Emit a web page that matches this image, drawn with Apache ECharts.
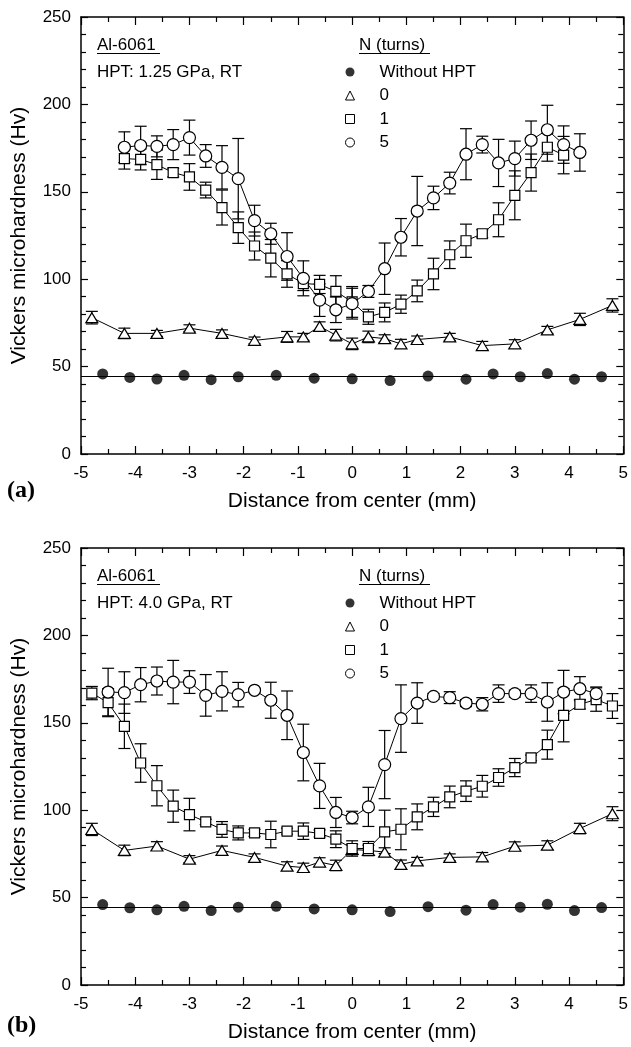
<!DOCTYPE html>
<html>
<head>
<meta charset="utf-8">
<script src="https://cdn.jsdelivr.net/npm/echarts@6/dist/echarts.min.js"></script>
<style>
html,body{margin:0;padding:0;background:#fff;}
#chart{width:631px;height:1047px;}
</style>
</head>
<body>
<div id="chart"></div>
<script>
// ---------------- DATA ----------------
const xTicks = [-5,-4,-3,-2,-1,0,1,2,3,4,5];
const yTicks = [0,50,100,150,200,250];
const legendNames = ['Without HPT','0','1','5'];
const baselineHv = 44.3;

// Reference (without HPT) – filled circles
const xRef = [-4.6,-4.1,-3.6,-3.1,-2.6,-2.1,-1.4,-0.7,0,0.7,1.4,2.1,2.6,3.1,3.6,4.1,4.6];
const yRefA = [45.8,43.8,42.9,45,42.5,44.2,45,43.4,43,42,44.6,42.8,45.8,44.2,46,42.8,44.2];
const yRefB = [46,44.2,43,45,42.6,44.5,45,43.5,43,42,44.8,42.8,46,44.5,46.2,42.6,44.3];

// Panel (a) HPT 1.25 GPa
const xTriA = [-4.8,-4.2,-3.6,-3.0,-2.4,-1.8,-1.2,-0.9,-0.6,-0.3,0,0.3,0.6,0.9,1.2,1.8,2.4,3.0,3.6,4.2,4.8];
const yTriA = [78,69,69,72,69,65,67,67,73,68,63,67,66,63,65.5,67,62,63,71,77,85];
const eTriA = [3.6,3,1.7,1.9,2,1.9,3.1,2,2.6,3.3,3.3,3.3,2.2,2.6,2,2,2.4,2.4,2,3.5,3.8];

const xSqA = [-4.2,-3.9,-3.6,-3.3,-3.0,-2.7,-2.4,-2.1,-1.8,-1.5,-1.2,-0.9,-0.6,-0.3,0,0.3,0.6,0.9,1.2,1.5,1.8,2.1,2.4,2.7,3.0,3.3,3.6,3.9];
const ySqA = [169,168.5,165.5,161,158.5,151,141,129.5,119,112,103,97.5,97,93,87,78.5,81,85.7,93.3,103,114,122,126,134,148,161,175.5,171];
const eSqA = [6,6,8.4,2.5,7.6,4.5,10,9,8,10.7,7.6,4,5.2,9,8.8,4.3,5.4,5.2,6.2,9,7.9,9.5,2.3,9.7,14,10.6,8,10.7];

const xCirA = [-4.2,-3.9,-3.6,-3.3,-3.0,-2.7,-2.4,-2.1,-1.8,-1.5,-1.2,-0.9,-0.6,-0.3,0,0.3,0.6,0.9,1.2,1.5,1.8,2.1,2.4,2.7,3.0,3.3,3.6,3.9,4.2];
const yCirA = [175.5,176.5,176,177,181,170.5,164,157.5,133.5,126,113,100.5,88,82.5,86,93,106,124,139,146.5,155,171.5,177,166.5,169,179.5,185.5,177,172.5];
const eCirA = [8.8,11,6,8.6,10,6.5,12.4,23,8.8,6,13.6,10,9.3,7.3,8.8,3.4,14.7,10.7,19.8,6.7,6.2,14.6,4.8,13.5,10,11,14,10.7,10.7];

// Panel (b) HPT 4.0 GPa
const xTriB = [-4.8,-4.2,-3.6,-3.0,-2.4,-1.8,-1.2,-0.9,-0.6,-0.3,0,0.3,0.6,0.9,1.2,1.8,2.4,3.0,3.6,4.2,4.8];
const yTriB = [89,77,79.5,72,77,73,68,67.2,70.3,68.4,77.5,77,76,69,71,73,73.3,79.4,80,89.5,98];
const eTriB = [3.5,3,2.5,2,2.5,2,2.5,2.5,2.5,3,3,3,2.5,2.5,2,2,2.5,2.5,2.5,3,4];

const xSqB = [-4.8,-4.5,-4.2,-3.9,-3.6,-3.3,-3.0,-2.7,-2.4,-2.1,-1.8,-1.5,-1.2,-0.9,-0.6,-0.3,0,0.3,0.6,0.9,1.2,1.5,1.8,2.1,2.4,2.7,3.0,3.3,3.6,3.9,4.2,4.5,4.8];
const ySqB = [167,161.5,148,127,114,102.3,97.5,93.3,89,87,87,86.1,88,88,86.7,83.4,78.1,78.1,87.6,89.1,96.2,101.9,107.6,110.9,113.7,118.7,124.4,129.9,137.5,154.3,160.6,163.3,159.6];
const eSqB = [3.8,8,12.7,11,11.5,9.2,9.3,1.5,4.5,4,2,7.6,1.7,4.7,2,4.8,4.4,4,12.4,11.7,7.4,5.5,6.2,5.9,6.2,5,5.2,1.6,8.3,15.2,2.7,6.7,7.1];

const xCirB = [-4.5,-4.2,-3.9,-3.6,-3.3,-3.0,-2.7,-2.4,-2.1,-1.8,-1.5,-1.2,-0.9,-0.6,-0.3,0,0.3,0.6,0.9,1.2,1.5,1.8,2.1,2.4,2.7,3.0,3.3,3.6,3.9,4.2,4.5];
const yCirB = [167.6,167.3,171.8,173.9,173.3,173.3,165.7,168,166.1,168.6,162.9,154.3,133,113.9,98.7,95.8,101.9,126.1,152.4,161.3,165.1,164.4,161.3,160.6,166.7,166.7,166.7,161.9,167.6,169.5,166.7];
const eCirB = [13.6,11.9,9.8,8,12.4,6.5,11.9,11.2,7,1,10.3,13.9,16.2,12.9,8.6,3.6,11.2,19.5,19.3,11.6,1.7,3.4,2,3.8,5,2,5,11,12.4,6.9,3.8];

// ---------------- CHART ----------------
const FONT = 'Liberation Sans, Arial, Helvetica, sans-serif';
const chart = echarts.init(document.getElementById('chart'), null, {renderer:'canvas'});

const zip = (xs, ys) => xs.map((x,i)=>[x, ys[i]]);
const zip3 = (xs, ys, es) => xs.map((x,i)=>[x, ys[i], es[i]]);

const panels = [
  {top:17, height:437, title:'HPT: 1.25 GPa, RT', tag:'(a)', ref:yRefA,
   tri:[xTriA,yTriA,eTriA], sq:[xSqA,ySqA,eSqA], cir:[xCirA,yCirA,eCirA]},
  {top:548, height:437, title:'HPT: 4.0 GPa, RT', tag:'(b)', ref:yRefB,
   tri:[xTriB,yTriB,eTriB], sq:[xSqB,ySqB,eSqB], cir:[xCirB,yCirB,eCirB]}
];

const grids = [], xAxes = [], yAxes = [], series = [], legends = [], graphics = [];
const axisLineStyle = {color:'#000', width:1.5};

panels.forEach((p, k) => {
  grids.push({left:81, right:5, top:p.top, height:p.height, containLabel:false});
  const xBase = {
    type:'value', gridIndex:k, min:xTicks[0], max:xTicks[xTicks.length-1], interval:1,
    axisLine:{show:true, onZero:false, lineStyle:axisLineStyle},
    axisTick:{show:true, inside:true, length:8, lineStyle:{color:'#000', width:1.2}},
    minorTick:{show:true, splitNumber:2, length:5, lineStyle:{color:'#000', width:1.2}},
    splitLine:{show:false}
  };
  xAxes.push(Object.assign({}, xBase, {
    position:'bottom',
    axisLabel:{show:true, margin:11, color:'#000', fontSize:17, fontFamily:FONT},
    name:'Distance from center (mm)', nameLocation:'middle', nameGap:37,
    nameTextStyle:{color:'#000', fontSize:21, fontFamily:FONT}
  }));
  xAxes.push(Object.assign({}, xBase, {position:'top', axisLabel:{show:false}}));
  const yBase = {
    type:'value', gridIndex:k, min:yTicks[0], max:yTicks[yTicks.length-1], interval:50,
    axisLine:{show:true, onZero:false, lineStyle:axisLineStyle},
    axisTick:{show:true, inside:true, length:7, lineStyle:{color:'#000', width:1.2}},
    minorTick:{show:true, splitNumber:5, length:5, lineStyle:{color:'#000', width:1.2}},
    splitLine:{show:false}
  };
  yAxes.push(Object.assign({}, yBase, {
    position:'left',
    axisLabel:{show:true, margin:10, color:'#000', fontSize:17, fontFamily:FONT},
    name:'Vickers microhardness (Hv)', nameLocation:'middle', nameGap:51,
    nameTextStyle:{color:'#000', fontSize:21, fontFamily:FONT}
  }));
  yAxes.push(Object.assign({}, yBase, {position:'right', axisLabel:{show:false}}));

  const xi = k*2, yi = k*2;
  const errSeries = (arr) => ({
    type:'custom', xAxisIndex:xi, yAxisIndex:yi, z:1, silent:true,
    encode:{x:0, y:1},
    data: zip3(arr[0], arr[1], arr[2]),
    renderItem:function(params, api){
      const x = api.value(0), y = api.value(1), e = api.value(2);
      const t = api.coord([x, y+e]), b = api.coord([x, y-e]);
      const w = 6, st = {stroke:'#000', lineWidth:1.2};
      return {type:'group', children:[
        {type:'line', shape:{x1:t[0],y1:t[1],x2:b[0],y2:b[1]}, style:st},
        {type:'line', shape:{x1:t[0]-w,y1:t[1],x2:t[0]+w,y2:t[1]}, style:st},
        {type:'line', shape:{x1:b[0]-w,y1:b[1],x2:b[0]+w,y2:b[1]}, style:st}
      ]};
    }
  });
  const openStyle = {color:'#fff', borderColor:'#000', borderWidth:1.2};
  const lineSeries = (name, arr, symbol, size) => ({
    name, type:'line', xAxisIndex:xi, yAxisIndex:yi, z:3,
    data: zip(arr[0], arr[1]), symbol, symbolSize:size, showAllSymbol:true,
    itemStyle:openStyle, lineStyle:{color:'#000', width:1},
    emphasis:{disabled:true}
  });
  series.push(errSeries(p.tri), errSeries(p.sq), errSeries(p.cir));
  series.push(lineSeries(legendNames[1], p.tri, 'triangle', [12,10]));
  series.push(lineSeries(legendNames[2], p.sq, 'rect', 10));
  series.push(lineSeries(legendNames[3], p.cir, 'circle', 12));
  series.push({
    name:legendNames[0], type:'scatter', xAxisIndex:xi, yAxisIndex:yi, z:4,
    data: zip(xRef, p.ref), symbol:'circle', symbolSize:11,
    itemStyle:{color:'#000'},
    markLine:{silent:true, symbol:'none', label:{show:false},
      lineStyle:{color:'#000', width:1.2, type:'solid'},
      data:[[{coord:[xTicks[0], baselineHv]}, {coord:[xTicks[xTicks.length-1], baselineHv]}]]}
  });

  const off = p.top - 17;
  legends.push({
    orient:'vertical', left:340, top:57+off, itemWidth:9, itemHeight:9, itemGap:3.5,
    selectedMode:false,
    textStyle:{color:'#000', fontSize:17, fontFamily:FONT, lineHeight:20, padding:[0,0,0,20]},
    data:[
      {name:legendNames[0], icon:'circle', itemStyle:{color:'#000', borderWidth:0}},
      {name:legendNames[1], icon:'triangle', itemStyle:{color:'#fff', borderColor:'#000', borderWidth:1}},
      {name:legendNames[2], icon:'rect', itemStyle:{color:'#fff', borderColor:'#000', borderWidth:1}},
      {name:legendNames[3], icon:'circle', itemStyle:{color:'#fff', borderColor:'#000', borderWidth:1}}
    ]
  });

  const txt = (s, x, y, extra) => ({type:'text', x, y, silent:true,
    style:Object.assign({text:s, fill:'#000', fontSize:17, fontFamily:FONT, verticalAlign:'middle', align:'left'}, extra||{})});
  graphics.push(txt('Al-6061', 97, 45+off));
  graphics.push({type:'line', silent:true, shape:{x1:97, y1:53.5+off, x2:160, y2:53.5+off}, style:{stroke:'#000', lineWidth:1.2}});
  graphics.push(txt(p.title, 97, 72+off));
  graphics.push(txt('N (turns)', 359, 45+off));
  graphics.push({type:'line', silent:true, shape:{x1:359, y1:53.5+off, x2:430, y2:53.5+off}, style:{stroke:'#000', lineWidth:1.2}});
  graphics.push(txt(p.tag, 7, 491+off+(k?4:0), {fontSize:24, fontWeight:'bold', fontFamily:'Liberation Serif, Times New Roman, serif'}));
});

chart.setOption({
  animation:false,
  backgroundColor:'#fff',
  grid:grids, xAxis:xAxes, yAxis:yAxes, series, legend:legends, graphic:graphics
});
</script>
</body>
</html>
